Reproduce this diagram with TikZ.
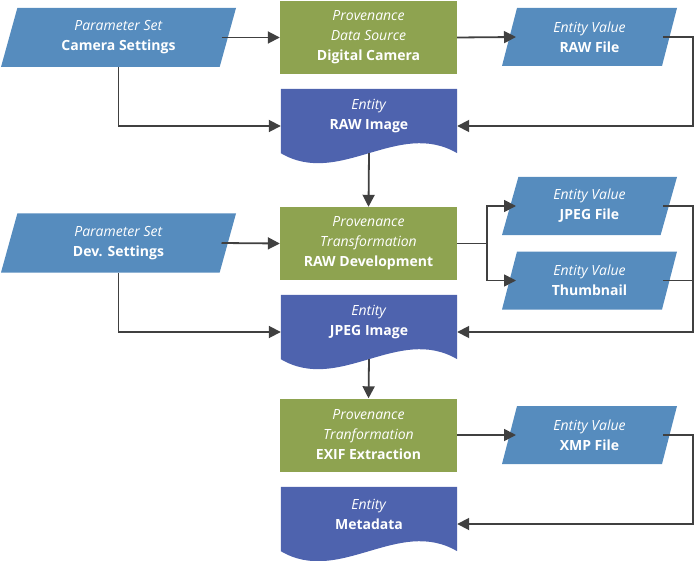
\documentclass[tikz,border=0pt]{standalone}
\usepackage{fontspec}
\setmainfont{Open Sans}
\usetikzlibrary{shapes.geometric,arrows.meta,backgrounds}
\definecolor{parblue}{RGB}{86,140,190}
\definecolor{provgreen}{RGB}{142,163,80}
\definecolor{entblue}{RGB}{78,99,174}
\definecolor{lineg}{RGB}{64,64,64}
\tikzset{
   box/.style={text=white,align=center,inner sep=0pt,font=\fontsize{14}{20}\selectfont},
   param/.style={box,trapezium,trapezium left angle=64,trapezium right angle=116,
      trapezium stretches body,fill=parblue,minimum width=235pt,minimum height=59pt},
   value/.style={param,minimum width=175pt,minimum height=58pt},
   prov/.style={box,fill=provgreen,minimum width=177pt,minimum height=73pt},
   entity/.style={box,minimum width=176pt,minimum height=54pt},
   link/.style={draw=lineg,line width=1.8pt},
   arr/.style={link,-{Triangle[length=12pt,width=12pt]}}
}

\begin{document}
\begin{tikzpicture}[x=1pt,y=-1pt]
   \useasboundingbox (0,0) rectangle (695,561);
   \node[param] (ps1) at (118.5,37.5) {\textit{Parameter Set}\\\textbf{Camera Settings}};
   \node[prov]  (src) at (368.5,37.5) {\textit{Provenance}\\\textit{Data Source}\\\textbf{Digital Camera}};
   \node[value] (ev1) at (589.5,37)   {\textit{Entity Value}\\\textbf{RAW File}};
   \node[entity] (ent1) at (369,116)  {\textit{Entity}\\\textbf{RAW Image}};
   \node[param] (ps2) at (118.5,243)  {\textit{Parameter Set}\\\textbf{Dev. Settings}};
   \node[prov]  (tr1) at (368.5,243.5) {\textit{Provenance}\\\textit{Transformation}\\\textbf{RAW Development}};
   \node[value] (ev2) at (589.5,206)  {\textit{Entity Value}\\\textbf{JPEG File}};
   \node[value] (ev3) at (589.5,280.5) {\textit{Entity Value}\\\textbf{Thumbnail}};
   \node[entity] (ent2) at (369,322)  {\textit{Entity}\\\textbf{JPEG Image}};
   \node[prov]  (tr2) at (368.5,435)  {\textit{Provenance}\\\textit{Tranformation}\\\textbf{EXIF Extraction}};
   \node[value] (ev4) at (589.5,435)  {\textit{Entity Value}\\\textbf{XMP File}};
   \node[entity] (ent3) at (369,514)  {\textit{Entity}\\\textbf{Metadata}};
   \begin{scope}[on background layer]
   \foreach \n in {ent1,ent2,ent3}
      \fill[entblue] (\n.north west) -- ([yshift=-10pt]\n.south west)
         .. controls ([xshift=58.7pt,yshift=-44.6pt]\n.south west)
         and ([xshift=117.3pt,yshift=24.6pt]\n.south west) .. ([yshift=-10pt]\n.south east)
         -- (\n.north east) -- cycle;
   \end{scope}
   \draw[arr] ([xshift=103pt]ps1.center) -- (src.west);
   \draw[arr] (src.east) -- ([xshift=-73.5pt]ev1.center);
   \draw[arr] (ps1.south) |- ([yshift=-10pt]ent1.west);
   \draw[arr] ([xshift=73.5pt]ev1.center) -- ++(30,0) |- ([yshift=-10pt]ent1.east);
   \draw[arr] ([yshift=-10pt]ent1.south) -- (tr1.north);
   \draw[arr] ([xshift=103pt]ps2.center) -- (tr1.west);
   \draw[link] (tr1.east) -- ++(30,0) coordinate (fork);
   \draw[arr] (fork) |- ([xshift=-73.5pt]ev2.center);
   \draw[arr] (fork) |- ([xshift=-73.5pt]ev3.center);
   \draw[arr] ([xshift=73.5pt]ev2.center) -- ++(30,0) coordinate (back) |- ([yshift=-10pt]ent2.east);
   \draw[link] ([xshift=73.5pt]ev3.center) -- (ev3.center -| back);
   \draw[arr] (ps2.south) |- ([yshift=-10pt]ent2.west);
   \draw[arr] ([yshift=-10pt]ent2.south) -- (tr2.north);
   \draw[arr] (tr2.east) -- ([xshift=-73.5pt]ev4.center);
   \draw[arr] ([xshift=73.5pt]ev4.center) -- ++(30,0) |- ([yshift=-10pt]ent3.east);
\end{tikzpicture}
\end{document}
